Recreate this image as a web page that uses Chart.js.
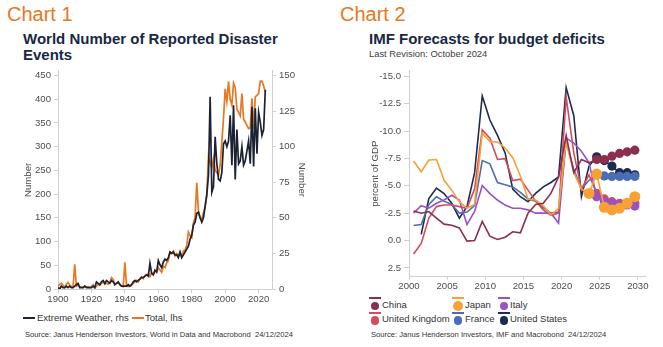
<!DOCTYPE html>
<html>
<head>
<meta charset="utf-8">
<script src="https://cdn.jsdelivr.net/npm/chart.js@4.4.1/dist/chart.umd.min.js"></script>
<style>
body { margin: 0; background: #fff; font-family: "Liberation Sans", Arial, sans-serif; }
#page { position: relative; width: 663px; height: 347px; overflow: hidden; }
.abs { position: absolute; white-space: pre; }
.head { font-size: 20px; line-height: 20px; color: #E87722; top: 4px; }
.title { font-size: 15px; font-weight: bold; line-height: 16px; color: #182843; top: 31px; }
.sub { font-size: 9.4px; line-height: 11px; color: #404040; top: 48px; }
.src { font-size: 7.6px; line-height: 9px; color: #333; top: 330px; }
.leg { font-size: 9.5px; line-height: 11px; color: #333; }
.ico { position: absolute; }
canvas { position: absolute; }
</style>
</head>
<body>
<div id="page">
  <div class="abs head" style="left:7px">Chart 1</div>
  <div class="abs title" style="left:23px">World Number of Reported Disaster<br>Events</div>
  <canvas id="chart1" width="330" height="243" style="left:0;top:62px"></canvas>
  <div id="legend1"></div>
  <div class="abs src" style="left:25px">Source: Janus Henderson Investors, World in Data and Macrobond  24/12/2024</div>

  <div class="abs head" style="left:340px">Chart 2</div>
  <div class="abs title" style="left:369px">IMF Forecasts for budget deficits</div>
  <div class="abs sub" style="left:369px">Last Revision: October 2024</div>
  <canvas id="chart2" width="333" height="233" style="left:330px;top:62px"></canvas>
  <div id="legend2"></div>
  <div class="abs src" style="left:371px">Source: Janus Henderson Investors, IMF and Macrobond  24/12/2024</div>
</div>

<script>
// ---- Chart 1 data: reported disasters per year, from 1900 ----
const START_YEAR = 1900;
const extremeWeatherRhs = [
    1, 0, 2, 1, 1, 2, 1, 2, 1, 1,
    2, 3, 4, 1, 1, 1, 2, 1, 1, 1,
    1, 2, 1, 5, 4, 3, 5, 6, 4, 6,
    5, 4, 6, 5, 3, 4, 5, 3, 2, 2,
    2, 2, 3, 2, 3, 5, 6, 5, 6, 7,
    8, 8, 9, 10, 9, 18, 11, 10, 13, 12,
    20, 17, 15, 19, 21, 20, 22, 26, 25, 26,
    24, 24, 22, 26, 22, 24, 26, 28, 30, 35,
    38, 45, 47, 53, 54, 50, 47, 50, 58, 66,
    80, 135, 68, 72, 107, 88, 77, 76, 82, 102,
    104, 100, 104, 122, 87, 129, 77, 112, 88, 90,
    100, 87, 90, 97, 104, 88, 128, 86, 127, 95,
    124, 117, 108, 112, 140
];
const totalLhs = [
    5, 10, 12, 8, 3, 10, 14, 8, 5, 4,
    52, 6, 8, 5, 4, 3, 6, 4, 5, 3,
    5, 9, 2, 6, 10, 8, 12, 15, 10, 12,
    10, 14, 24, 20, 10, 12, 14, 10, 6, 5,
    56, 6, 5, 6, 8, 12, 15, 18, 15, 22,
    26, 22, 28, 30, 32, 26, 34, 30, 40, 35,
    45, 40, 35, 48, 45, 55, 60, 78, 75, 80,
    70, 75, 70, 78, 68, 80, 82, 92, 120, 112,
    108, 140, 150, 224, 165, 150, 148, 160, 175, 200,
    279, 265, 255, 275, 250, 245, 240, 262, 310, 360,
    422, 395, 437, 400, 388, 434, 425, 380, 372, 365,
    412, 358, 352, 345, 338, 340, 402, 338, 405, 408,
    412, 438, 438, 428, 415
];
const leftTicks = [0, 50, 100, 150, 200, 250, 300, 350, 400, 450];
const rightTicks = [0, 25, 50, 75, 100, 125, 150];
const yearTicks1 = [1900, 1920, 1940, 1960, 1980, 2000, 2020];

// ---- Chart 2 data: general government balance, % of GDP ----
const imfYears = [2000, 2001, 2002, 2003, 2004, 2005, 2006, 2007, 2008, 2009,
    2010, 2011, 2012, 2013, 2014, 2015, 2016, 2017, 2018, 2019,
    2020, 2021, 2022, 2023, 2024, 2025, 2026, 2027, 2028, 2029];
const countries = ['China', 'Japan', 'Italy', 'United Kingdom', 'France', 'United States'];
const china = [-2.7, -2.5, -2.65, -2.05, -1.5, -1.4, -1.15, 0.05, 0.0, -1.75,
    -0.4, -0.1, -0.3, -0.8, -0.7, -2.5, -3.3, -3.4, -4.3, -5.8,
    -9.6, -6.2, -7.4, -7.1, -7.4, -7.4, -7.7, -7.95, -8.1, -8.25];
const japan = [-7.26, -6.28, -7.35, -7.4, -5.5, -4.6, -3.55, -2.95, -3.3, -9.8,
    -9.05, -9.0, -8.45, -7.56, -5.9, -3.8, -3.7, -3.2, -2.35, -2.95,
    -9.05, -6.2, -4.7, -4.3, -6.07, -3.04, -2.8, -2.95, -3.4, -4.0];
const italy = [-2.5, -3.18, -2.95, -3.4, -3.7, -4.14, -3.7, -1.46, -2.65, -5.03,
    -4.29, -3.7, -3.24, -2.95, -2.95, -2.8, -2.5, -2.5, -2.5, -1.6,
    -9.35, -8.9, -8.15, -7.1, -4.0, -3.6, -3.4, -3.25, -3.25, -3.15];
const uk = [1.22, 0.27, -2.05, -3.1, -3.24, -3.24, -3.1, -2.95, -4.73, -10.1,
    -9.35, -7.4, -7.47, -5.48, -5.6, -4.6, -3.6, -2.8, -2.3, -2.5,
    -13.1, -8.0, -4.7, -6.0, -4.3, -3.8, -3.55, -3.4, -3.45, -3.4];
const france = [-1.37, -1.46, -3.3, -4.0, -3.6, -3.3, -2.5, -2.6, -3.2, -7.3,
    -7.0, -5.3, -5.1, -4.9, -4.4, -3.8, -3.6, -3.0, -2.5, -2.6,
    -9.0, -6.5, -4.7, -5.5, -6.0, -5.9, -5.85, -5.85, -5.85, -5.85];
const us = [null, -0.57, -3.84, -4.79, -4.29, -3.4, -2.05, -3.1, -6.2, -13.2,
    -11.0, -9.6, -8.0, -4.7, -4.0, -3.54, -4.3, -4.9, -5.3, -5.8,
    -13.96, -11.4, -4.0, -6.8, -7.65, -7.3, -6.8, -6.2, -6.2, -6.0];
const forecastFrom = [2024, 2023, 2024, 2024, 2024, 2024];
const gdpTicks = [-15, -12.5, -10, -7.5, -5, -2.5, 0, 2.5];
const yearTicks2 = [2000, 2005, 2010, 2015, 2020, 2025, 2030];

const countryColors = ['#8C2E50', '#F7A035', '#9B51C2', '#D64B5C', '#4A6DB5', '#1C2C4F'];
const countryData = [china, japan, italy, uk, france, us];

const tickFont = { family: 'Liberation Sans', size: 9.6 };
const tickColor = '#4d4d4d';
const axisColor = '#cfcfcf';

function fixedTicks(list) {
    return function(scale) {
        scale.ticks = list.map(v => ({ value: v }));
    };
}

function axisGrid(len) {
    return { display: true, drawOnChartArea: false, drawTicks: true, tickLength: len, color: axisColor };
}

// Chart 1
new Chart(document.getElementById('chart1'), {
    type: 'line',
    data: {
        datasets: [{
            label: 'Extreme Weather, rhs',
            data: extremeWeatherRhs.map((v, i) => ({ x: START_YEAR + i, y: v })),
            yAxisID: 'yRight',
            borderColor: '#1B2233',
            borderWidth: 1.7,
            pointRadius: 0
        }, {
            label: 'Total, lhs',
            data: totalLhs.map((v, i) => ({ x: START_YEAR + i, y: v })),
            yAxisID: 'yLeft',
            borderColor: '#E87722',
            borderWidth: 1.7,
            pointRadius: 0
        }]
    },
    options: {
        responsive: false,
        animation: false,
        events: [],
        layout: { padding: { top: 3, left: 0, right: 0, bottom: 0 } },
        plugins: { legend: { display: false }, tooltip: { enabled: false } },
        scales: {
            x: {
                type: 'linear', min: 1900, max: 2028,
                afterBuildTicks: fixedTicks(yearTicks1),
                afterFit: s => { s.height = 16; },
                ticks: { callback: v => String(v), font: tickFont, color: tickColor, padding: 1, maxRotation: 0, autoSkip: false },
                grid: axisGrid(4),
                border: { color: axisColor }
            },
            yLeft: {
                position: 'left', min: 0, max: 460,
                afterBuildTicks: fixedTicks(leftTicks),
                afterFit: s => { s.width = 58; },
                ticks: { font: tickFont, color: tickColor, padding: 3, autoSkip: false },
                grid: axisGrid(4),
                border: { color: axisColor },
                title: { display: true, text: 'Number', font: tickFont, color: tickColor, padding: { top: 22.3, bottom: 0 } }
            },
            yRight: {
                position: 'right', min: 0, max: 460 / 3,
                afterBuildTicks: fixedTicks(rightTicks),
                afterFit: s => { s.width = 58; },
                ticks: { font: tickFont, color: tickColor, padding: 3, autoSkip: false },
                grid: axisGrid(4),
                border: { color: axisColor },
                title: { display: true, text: 'Number', font: tickFont, color: tickColor, padding: { top: 22.3, bottom: 0 } }
            }
        }
    }
});

// Chart 2 (points sit mid-year)
new Chart(document.getElementById('chart2'), {
    type: 'line',
    data: {
        datasets: countries.map((name, k) => ({
            label: name,
            data: countryData[k].map((v, i) => ({ x: imfYears[i] + 0.6, y: v })),
            borderColor: countryColors[k],
            backgroundColor: countryColors[k],
            borderWidth: 1.6,
            pointBorderWidth: 0,
            pointBackgroundColor: countryColors[k],
            pointRadius: ctx => imfYears[ctx.dataIndex] >= forecastFrom[k] ? (name === 'Japan' ? 5.5 : 4.6) : 0
        }))
    },
    options: {
        responsive: false,
        animation: false,
        events: [],
        layout: { padding: { top: 4.1, left: 0, right: 17.5, bottom: 0 } },
        plugins: { legend: { display: false }, tooltip: { enabled: false } },
        scales: {
            x: {
                type: 'linear', min: 2000, max: 2031,
                afterBuildTicks: fixedTicks(yearTicks2),
                afterFit: s => { s.height = 18.3; },
                ticks: { callback: v => String(v), font: tickFont, color: tickColor, padding: 1, maxRotation: 0, autoSkip: false },
                grid: axisGrid(3),
                border: { color: axisColor }
            },
            y: {
                reverse: true, min: -15.5, max: 3.3,
                afterBuildTicks: fixedTicks(gdpTicks),
                afterFit: s => { s.width = 79; },
                ticks: { callback: v => v.toFixed(1), font: tickFont, color: tickColor, padding: 3, autoSkip: false },
                grid: axisGrid(5),
                border: { color: axisColor },
                title: { display: true, text: 'percent of GDP', font: tickFont, color: tickColor, padding: { top: 39.3, bottom: 0 } }
            }
        }
    }
});

// Legends (HTML, laid out in columns like the original)
function legendItem(parent, name, color, iconLeft, textLeft, top, withDot, dotR) {
    const line = document.createElement('div');
    line.className = 'ico';
    line.style.cssText = `left:${iconLeft}px;top:${withDot ? top - 1 : top}px;width:12px;height:2px;background:${color}`;
    parent.appendChild(line);
    if (withDot) {
        const dot = document.createElement('div');
        dot.className = 'ico';
        dot.style.cssText = `left:${iconLeft + 6 - dotR}px;top:${top + 7.7 - dotR}px;width:${dotR * 2}px;height:${dotR * 2}px;border-radius:50%;background:${color}`;
        parent.appendChild(dot);
    }
    const label = document.createElement('div');
    label.className = 'abs leg';
    label.textContent = name;
    label.style.left = textLeft + 'px';
    label.style.top = (withDot ? top + 0.2 : top - 4.8) + 'px';
    parent.appendChild(label);
}

const legend1 = document.getElementById('legend1');
legendItem(legend1, 'Extreme Weather, rhs', '#1B2233', 23, 37, 317, false);
legendItem(legend1, 'Total, lhs', '#E87722', 132, 145, 317, false);

const legend2 = document.getElementById('legend2');
const colIcon = [369, 452, 498];
const colText = [382, 465, 510];
const rowTop = [298.3, 312.7];
countries.forEach((name, k) => {
    const col = k % 3, row = Math.floor(k / 3);
    legendItem(legend2, name, countryColors[k], colIcon[col], colText[col], rowTop[row], true, name === 'Japan' ? 5.3 : 4.4);
});
</script>
</body>
</html>
